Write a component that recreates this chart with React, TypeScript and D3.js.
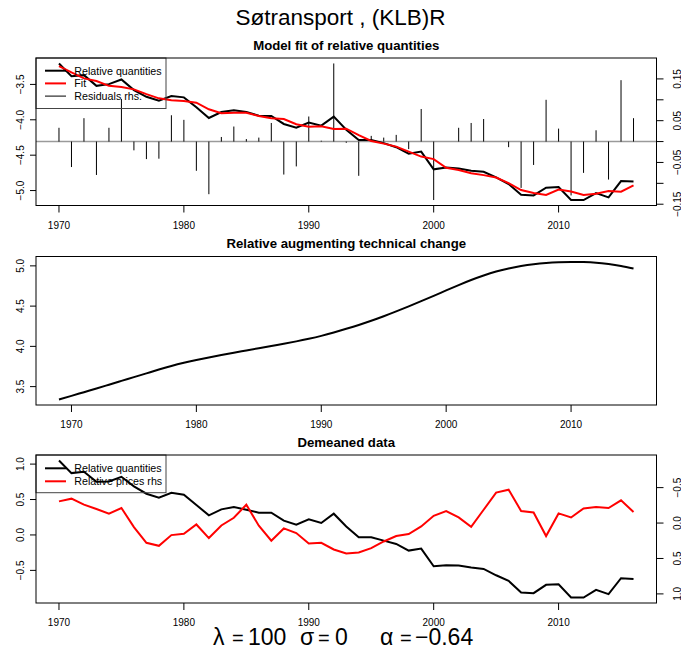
import React from "react";
import * as d3 from "d3";

// ---------- data ----------
const mainTitle = "Søtransport , (KLB)R";
const panelTitles = ["Model fit of relative quantities", "Relative augmenting technical change", "Demeaned data"];

const yearsA = d3.range(1970, 2017); // 1970..2016
const yearsB = d3.range(1969, 2016); // 1969..2015

const relQuantities = [
  -3.204, -3.383, -3.369, -3.52, -3.496, -3.43, -3.58, -3.675, -3.73, -3.665,
  -3.683, -3.824, -3.975, -3.89, -3.866, -3.89, -3.942, -3.946, -4.059, -4.111,
  -4.04, -4.083, -3.956, -4.14, -4.285, -4.285, -4.33, -4.387, -4.48, -4.45,
  -4.70, -4.675, -4.689, -4.72, -4.735, -4.815, -4.908, -5.059, -5.069, -4.96,
  -4.95, -5.134, -5.134, -5.035, -5.097, -4.866, -4.872,
];
const fitValues = [
  -3.242, -3.331, -3.415, -3.453, -3.52, -3.538, -3.57, -3.637, -3.697, -3.725,
  -3.735, -3.759, -3.852, -3.908, -3.90, -3.90, -3.946, -3.979, -3.989, -4.063,
  -4.097, -4.092, -4.13, -4.125, -4.218, -4.30, -4.337, -4.379, -4.45, -4.52,
  -4.556, -4.679, -4.71, -4.754, -4.782, -4.815, -4.894, -4.993, -5.035, -5.063,
  -4.985, -5.013, -5.063, -5.045, -5.007, -5.017, -4.928,
];
const residuals = [
  0.033, -0.061, 0.056, -0.080, 0.033, 0.102, -0.021, -0.042, -0.041, 0.063,
  0.052, -0.070, -0.126, 0.011, 0.036, 0.006, 0.0095, 0.0445, -0.079, -0.0595,
  0.060, 0.002, 0.187, -0.003, -0.082, 0.0136, 0.0095, 0.016, -0.018, 0.078,
  -0.140, 0.0, 0.033, 0.0445, 0.054, 0.0, -0.0134, -0.111, -0.056, 0.100,
  0.031, -0.129, -0.075, 0.027, -0.091, 0.147, 0.056,
];
const techChange = [
  3.340, 3.385, 3.431, 3.477, 3.524, 3.571, 3.618, 3.665, 3.712, 3.757,
  3.796, 3.830, 3.862, 3.892, 3.921, 3.949, 3.977, 4.005, 4.033, 4.062,
  4.094, 4.130, 4.172, 4.218, 4.266, 4.318, 4.374, 4.434, 4.497, 4.562,
  4.628, 4.695, 4.761, 4.824, 4.880, 4.929, 4.968, 4.998, 5.020, 5.035,
  5.044, 5.048, 5.047, 5.040, 5.022, 4.997, 4.966,
];
const demeanedQuantities = [
  1.051, 0.873, 0.892, 0.751, 0.755, 0.821, 0.685, 0.582, 0.525, 0.596,
  0.568, 0.423, 0.277, 0.361, 0.394, 0.357, 0.314, 0.314, 0.201, 0.145,
  0.22, 0.169, 0.30, 0.12, -0.033, -0.033, -0.080, -0.127, -0.221, -0.193,
  -0.442, -0.428, -0.432, -0.46, -0.479, -0.569, -0.648, -0.813, -0.822, -0.704,
  -0.696, -0.883, -0.883, -0.775, -0.836, -0.611, -0.62,
];
const demeanedPrices = [
  -0.306, -0.344, -0.259, -0.198, -0.132, -0.212, 0.057, 0.279, 0.321, 0.170,
  0.151, 0.02, 0.212, 0.034, -0.075, -0.259, 0.038, 0.250, 0.076, 0.141,
  0.289, 0.279, 0.373, 0.43, 0.416, 0.354, 0.26, 0.184, 0.156, 0.048,
  -0.103, -0.17, -0.079, 0.052, -0.188, -0.429, -0.471, -0.17, -0.15, 0.184,
  -0.136, -0.079, -0.207, -0.226, -0.212, -0.32, -0.156,
];

const xTicks = [1970, 1980, 1990, 2000, 2010];
const topLeftTicks = [-3.5, -4.0, -4.5, -5.0];
const topRightTicks = [-0.15, -0.1, -0.05, 0, 0.05, 0.1, 0.15];
const topRightLabels = [-0.15, -0.05, 0.05, 0.15];
const midTicks = [3.5, 4.0, 4.5, 5.0];
const botLeftTicks = [-0.5, 0.0, 0.5, 1.0];
const botRightTicks = [-0.5, 0.0, 0.5, 1.0];
const legendTop = ["Relative quantities", "Fit", "Residuals rhs."];
const legendBottom = ["Relative quantities", "Relative prices rhs"];
const mathPieces: [string, number, number][] = [
  ["λ", 213, 23], ["=", 232, 20], ["100", 248, 23], ["σ", 300, 23], ["=", 318, 20], ["0", 335, 23],
  ["α", 380, 23], ["=", 400, 20], ["−0.64", 415, 23],
];

// ---------- layout ----------
const W = 681, H = 653;
const FONT = "'Liberation Sans', Arial, Helvetica, sans-serif";
const L = 36, R = 656.5;
const panels = [
  { top: 58, bottom: 205.5 },
  { top: 256.5, bottom: 405 },
  { top: 455, bottom: 603 },
];

function ext(domain: [number, number], f = 0.04): [number, number] {
  const d = (domain[1] - domain[0]) * f;
  return [domain[0] - d, domain[1] + d];
}
const fmt = (v: number, digits: number) => (v < 0 ? "−" : "") + Math.abs(v).toFixed(digits);

export default function App() {
  const xA = d3.scaleLinear().domain(ext([1970, 2016])).range([L, R]);
  const xB = d3.scaleLinear().domain(ext([1969, 2015])).range([L, R]);

  const p0 = panels[0], p1 = panels[1], p2 = panels[2];
  const ext0 = d3.extent(relQuantities.concat(fitValues)) as [number, number];
  const y0 = d3.scaleLinear().domain(ext(ext0)).range([p0.bottom, p0.top]);
  const y0r = d3.scaleLinear().domain(ext(d3.extent(residuals) as [number, number])).range([p0.bottom, p0.top]);
  const y1 = d3.scaleLinear().domain(ext(d3.extent(techChange) as [number, number])).range([p1.bottom, p1.top]);
  const e2 = ext(d3.extent(demeanedQuantities) as [number, number]);
  const y2 = d3.scaleLinear().domain(e2).range([p2.bottom, p2.top]);
  const y2r = d3.scaleLinear().domain([e2[1], e2[0]]).range([p2.bottom, p2.top]);

  const lineA = (ys: d3.ScaleLinear<number, number>, vals: number[]) =>
    d3.line<number>().x((_, i) => xA(yearsA[i])).y((v) => ys(v))(vals) || "";
  const lineB = d3.line<number>().curve(d3.curveNatural).x((_, i) => xB(yearsB[i])).y((v) => y1(v))(techChange) || "";

  const box = (p: { top: number; bottom: number }, key: string) => (
    <rect key={key} x={L} y={p.top} width={R - L} height={p.bottom - p.top} fill="none" stroke="#000" strokeWidth={1} />
  );

  const xAxis = (xs: d3.ScaleLinear<number, number>, p: { bottom: number }, key: string) => (
    <g key={key}>
      {xTicks.map((t) => (
        <g key={t}>
          <line x1={xs(t)} x2={xs(t)} y1={p.bottom} y2={p.bottom + 7} stroke="#000" />
          <text x={xs(t)} y={p.bottom + 23} textAnchor="middle" fontSize={10} fontFamily={FONT}>{t}</text>
        </g>
      ))}
    </g>
  );

  const leftAxis = (ys: d3.ScaleLinear<number, number>, ticks: number[], key: string) => (
    <g key={key}>
      {ticks.map((t) => (
        <g key={t}>
          <line x1={L} x2={L - 6} y1={ys(t)} y2={ys(t)} stroke="#000" />
          <text transform={`translate(23.5,${ys(t)}) rotate(-90)`} textAnchor="middle" fontSize={10} fontFamily={FONT}>{fmt(t, 1)}</text>
        </g>
      ))}
    </g>
  );

  const rightAxis = (ys: d3.ScaleLinear<number, number>, ticks: number[], labels: number[], digits: number, key: string) => (
    <g key={key}>
      {ticks.map((t) => (
        <line key={t} x1={R} x2={R + 7} y1={ys(t)} y2={ys(t)} stroke="#000" />
      ))}
      {labels.map((t) => (
        <text key={"l" + t} transform={`translate(680.5,${ys(t)}) rotate(-90)`} textAnchor="middle" fontSize={10} fontFamily={FONT}>{fmt(t, digits)}</text>
      ))}
    </g>
  );

  const titleText = (t: string, p: { top: number }) => (
    <text key={t} x={(L + R) / 2} y={p.top - 8.5} textAnchor="middle" fontSize={13.2} fontWeight="bold" fontFamily={FONT}>{t}</text>
  );

  return (
    <svg width={W} height={H} style={{ position: "absolute", left: 0, top: 0, background: "#fff" }} xmlns="http://www.w3.org/2000/svg">
      <rect x={0} y={0} width={W} height={H} fill="#fff" />
      <text x={W / 2} y={25} textAnchor="middle" fontSize={22.5} fontFamily={FONT}>{mainTitle}</text>

      {/* Panel 1 */}
      {titleText(panelTitles[0], p0)}
      <line x1={L} x2={R} y1={y0r(0)} y2={y0r(0)} stroke="#9a9a9a" strokeWidth={1.5} />
      {residuals.map((r, i) => (
        <line key={i} x1={xA(yearsA[i])} x2={xA(yearsA[i])} y1={y0r(0)} y2={y0r(r)} stroke="#000" strokeWidth={1} />
      ))}
      <path d={lineA(y0, relQuantities)} fill="none" stroke="#000" strokeWidth={2} />
      <path d={lineA(y0, fitValues)} fill="none" stroke="#ff0000" strokeWidth={2} />
      <rect x={L} y={p0.top} width={130} height={50.5} fill="none" stroke="#444" strokeWidth={1} />
      {legendTop.map((t, i) => (
        <g key={t}>
          <line x1={45} x2={66} y1={70.7 + i * 12.7} y2={70.7 + i * 12.7} stroke={i === 1 ? "#ff0000" : "#000"} strokeWidth={i === 2 ? 1 : 2} />
          <text x={74.3} y={70.7 + i * 12.7} dominantBaseline="central" fontSize={10.7} fontFamily={FONT}>{t}</text>
        </g>
      ))}
      {box(p0, "b0")}
      {xAxis(xA, p0, "x0")}
      {leftAxis(y0, topLeftTicks, "l0")}
      {rightAxis(y0r, topRightTicks, topRightLabels, 2, "r0")}

      {/* Panel 2 */}
      {titleText(panelTitles[1], p1)}
      <path d={lineB} fill="none" stroke="#000" strokeWidth={2} />
      {box(p1, "b1")}
      {xAxis(xB, p1, "x1")}
      {leftAxis(y1, midTicks, "l1")}

      {/* Panel 3 */}
      {titleText(panelTitles[2], p2)}
      <path d={lineA(y2, demeanedQuantities)} fill="none" stroke="#000" strokeWidth={2} />
      <path d={lineA(y2r, demeanedPrices)} fill="none" stroke="#ff0000" strokeWidth={2} />
      <rect x={L} y={p2.top} width={130} height={37.7} fill="none" stroke="#444" strokeWidth={1} />
      {legendBottom.map((t, i) => (
        <g key={t}>
          <line x1={45} x2={66} y1={468.3 + i * 13} y2={468.3 + i * 13} stroke={i === 1 ? "#ff0000" : "#000"} strokeWidth={2} />
          <text x={74.3} y={468.3 + i * 13} dominantBaseline="central" fontSize={10.7} fontFamily={FONT}>{t}</text>
        </g>
      ))}
      {box(p2, "b2")}
      {xAxis(xA, p2, "x2")}
      {leftAxis(y2, botLeftTicks, "l2")}
      {rightAxis(y2r, botRightTicks, botRightTicks, 1, "r2")}

      {/* math annotation */}
      <text y={645} fontFamily={FONT}>
        {mathPieces.map(([s, x, fs], i) => (
          <tspan key={i} x={x} fontSize={fs}>{s}</tspan>
        ))}
      </text>
    </svg>
  );
}
